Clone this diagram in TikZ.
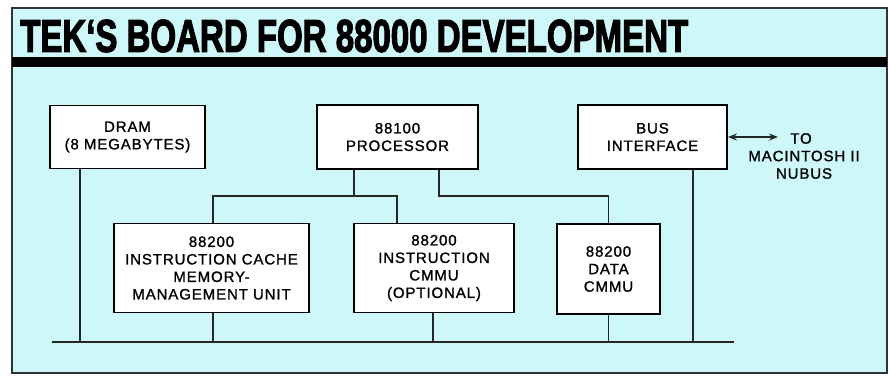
\documentclass[tikz,border=0pt]{standalone}
\usepackage{fontspec}
\setmainfont{Liberation Sans}
\newfontfamily\titlefont{Liberation Sans Bold}[FakeBold=3]
\newfontfamily\boxfont{Liberation Sans}[LetterSpace=6,FakeBold=1.2]
\usetikzlibrary{arrows.meta}
\definecolor{panel}{RGB}{206,247,250}
\tikzset{
  blk/.style={draw=black, line width=1.8pt, fill=white, inner sep=0pt, align=center,
    font=\boxfont\fontsize{15}{17.5}\selectfont},
  wire/.style={line width=1.4pt, draw=black!85},
  lbl/.style={align=center, inner sep=0pt, font=\boxfont\fontsize{15}{17.5}\selectfont}
}
\begin{document}
\begin{tikzpicture}[x=1pt,y=-1pt]
\useasboundingbox (0,0) rectangle (891,375);
% frame
\draw[line width=1.6pt, draw=black!80, fill=panel] (12,8) rectangle (887,373);
\fill[black] (12,57) rectangle (887,67);
\node[anchor=west, inner sep=0pt] (title) at (20,36)
  {\resizebox{668pt}{32pt}{\titlefont TEK‘S BOARD FOR 88000 DEVELOPMENT}};
% boxes
\node[blk, minimum width=155pt, minimum height=63pt] (dram) at (127.5,137) {DRAM\\(8 MEGABYTES)};
\node[blk, minimum width=161pt, minimum height=64pt] (proc) at (397.5,137) {88100\\PROCESSOR};
\node[blk, minimum width=149pt, minimum height=64pt] (bus) at (652.5,137) {BUS\\INTERFACE};
\node[blk, minimum width=195pt, minimum height=89pt] (icache) at (211.5,268) {88200\\INSTRUCTION CACHE\\MEMORY-\\MANAGEMENT UNIT};
\node[blk, minimum width=160pt, minimum height=89pt] (icmmu) at (434,268) {88200\\INSTRUCTION\\CMMU\\(OPTIONAL)};
\node[blk, minimum width=103pt, minimum height=90pt] (dcmmu) at (608.5,269) {88200\\DATA\\CMMU};
% guides
\coordinate (gDram) at (80,0);
\coordinate (gIc) at (213,0);
\coordinate (gIm) at (433,0);
\coordinate (gIm2) at (397,0);
\coordinate (gDc) at (608.5,0);
\coordinate (gBus) at (693,0);
\coordinate (gP1) at (354,0);
\coordinate (gP2) at (439,0);
\coordinate (tap) at (0,196);
\coordinate (busL) at (52,342);
\coordinate (busR) at (734,342);
\coordinate (nubus) at (778,137);
% connectors
\draw[wire] (proc.south -| gP1) -- (tap -| gP1);
\draw[wire] (icache.north -| gIc) |- (tap -| gIm2) -- (icmmu.north -| gIm2);
\draw[wire] (proc.south -| gP2) -- (tap -| gP2) -| (dcmmu.north);
\draw[wire] (busL) -- (busR);
\draw[wire] (dram.south -| gDram) -- (busL -| gDram);
\draw[wire] (icache.south -| gIc) -- (busL -| gIc);
\draw[wire] (icmmu.south -| gIm) -- (busL -| gIm);
\draw[wire] (dcmmu.south -| gDc) -- (busL -| gDc);
\draw[wire] (bus.south -| gBus) -- (busL -| gBus);
\draw[wire, line width=1.8pt, {Stealth[length=9pt,width=7pt]}-{Stealth[length=9pt,width=7pt]}] (bus.east |- nubus) -- (nubus);
\node[lbl] (nubustxt) at (804,156) {\hspace*{-6pt}TO\\MACINTOSH II\\NUBUS};
\end{tikzpicture}
\end{document}
